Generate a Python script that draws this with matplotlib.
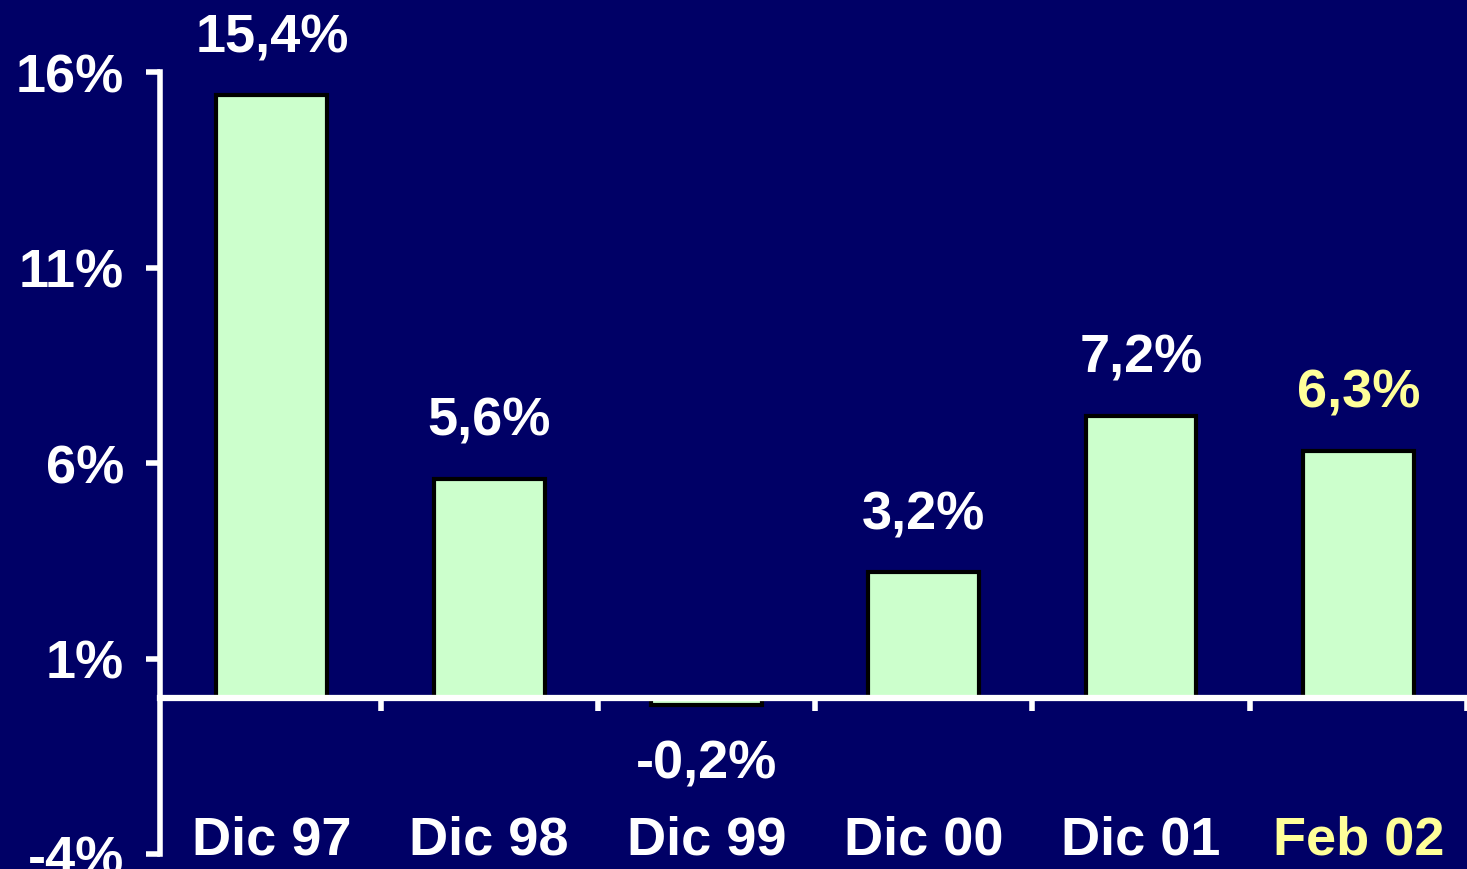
import matplotlib.pyplot as plt

plt.rcParams['font.family'] = ['Liberation Sans', 'DejaVu Sans']
plt.rcParams['font.weight'] = 'bold'

# data
categories = ['Dic 97', 'Dic 98', 'Dic 99', 'Dic 00', 'Dic 01', 'Feb 02']
values = [15.4, 5.6, -0.2, 3.2, 7.2, 6.3]
value_labels = ['15,4%', '5,6%', '-0,2%', '3,2%', '7,2%', '6,3%']
label_colors = ['white', 'white', 'white', 'white', 'white', '#FFFF99']
yticks = [-4, 1, 6, 11, 16]

bg = '#000066'
fs = 39

fig = plt.figure(figsize=(14.67, 8.7), dpi=100, facecolor=bg)
ax = fig.add_axes([160 / 1467, 15 / 870, 1 - 160 / 1467, 782 / 870])
ax.set_facecolor(bg)

x = list(range(len(categories)))
ax.bar(x, values, width=0.51, color='#CCFFCC', edgecolor='black', linewidth=3, zorder=2)

# value labels above / below bars
for xi, v, lab, c in zip(x, values, value_labels, label_colors):
    if v >= 0:
        ax.annotate(lab, (xi, v), xytext=(0, 24), textcoords='offset points',
                    ha='center', va='bottom', color=c, fontsize=fs, fontweight='bold')
    else:
        ax.annotate(lab, (xi, v), xytext=(0, -24), textcoords='offset points',
                    ha='center', va='top', color=c, fontsize=fs, fontweight='bold')

# category labels
for xi, cat, c in zip(x, categories, label_colors):
    ax.text(xi, -3.62, cat, ha='center', va='center', color=c,
            fontsize=fs, fontweight='bold')

ax.set_xlim(-0.515, 5.5)
ax.set_ylim(-4, 16)

ax.set_yticks(yticks)
ax.set_yticklabels([f'{t}%' for t in yticks])
ax.set_xticks([0.5, 1.5, 2.5, 3.5, 4.5, 5.5])
ax.set_xticklabels([])

ax.spines['top'].set_visible(False)
ax.spines['right'].set_visible(False)
ax.spines['left'].set_color('white')
ax.spines['left'].set_linewidth(4)
ax.spines['bottom'].set_position(('data', 0))
ax.spines['bottom'].set_color('white')
ax.spines['bottom'].set_linewidth(4.5)
ax.spines['bottom'].set_zorder(3)

ax.tick_params(axis='y', direction='out', length=10, width=4, color='white',
               labelcolor='white', labelsize=fs, pad=16)
ax.tick_params(axis='x', direction='out', length=9, width=4, color='white')

fig.savefig('out.png', dpi=100, facecolor=bg)
